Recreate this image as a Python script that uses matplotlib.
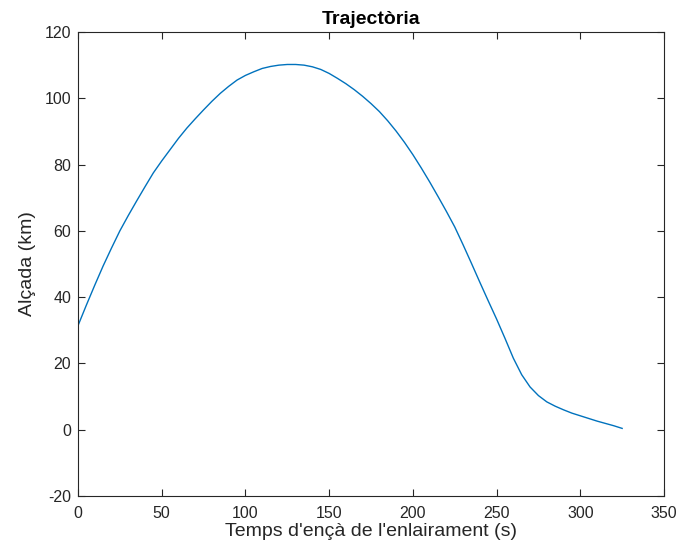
import matplotlib
matplotlib.use("Agg")
import matplotlib.pyplot as plt

# Flight trajectory: time since lift-off (s) vs altitude (km)
temps = [0, 5, 10, 15, 20, 25, 30, 35, 40, 45, 50, 55, 60, 65, 70, 75, 80,
         85, 90, 95, 100, 105, 110, 115, 120, 125, 130, 135, 140, 145, 150,
         155, 160, 165, 170, 175, 180, 185, 190, 195, 200, 205, 210, 215,
         220, 225, 230, 235, 240, 245, 250, 255, 260, 265, 270, 275, 280,
         285, 290, 295, 300, 305, 310, 315, 320, 325]
alcada = [31.4, 37.6, 43.6, 49.4, 54.8, 60.0, 64.6, 69.0, 73.3, 77.5, 81.1,
          84.5, 87.9, 91.0, 93.8, 96.5, 99.1, 101.5, 103.6, 105.5, 106.9,
          108.0, 109.0, 109.6, 110.0, 110.2, 110.2, 110.0, 109.5, 108.7,
          107.5, 106.0, 104.4, 102.6, 100.6, 98.4, 96.0, 93.2, 90.1, 86.7,
          83.0, 79.0, 74.8, 70.4, 65.9, 61.2, 55.8, 50.2, 44.5, 38.9, 33.4,
          27.6, 21.6, 16.6, 12.9, 10.3, 8.4, 7.1, 6.0, 5.0, 4.2, 3.4, 2.6,
          1.9, 1.2, 0.4]

xticks = [0, 50, 100, 150, 200, 250, 300, 350]
yticks = [-20, 0, 20, 40, 60, 80, 100, 120]

plt.rcParams['font.family'] = ['Liberation Sans', 'DejaVu Sans']
plt.rcParams['axes.unicode_minus'] = False
axcol = '#262626'

fig = plt.figure(figsize=(6.78, 5.57), dpi=100)
ax = fig.add_axes([78 / 678, 1 - 496 / 557, 586 / 678, 464 / 557])

ax.plot(temps, alcada, color='#0072BD', lw=1.0)

ax.set_xlim(0, 350)
ax.set_ylim(-20, 120)
ax.set_xticks(xticks)
ax.set_yticks(yticks)

ax.tick_params(direction='in', top=True, right=True, length=5, width=0.8,
               colors=axcol, labelsize=11.5, labelcolor=axcol)
ax.tick_params(axis='x', pad=7)
ax.tick_params(axis='y', pad=5)
for s in ax.spines.values():
    s.set_color(axcol)
    s.set_linewidth(0.8)

ax.set_title("Trajectòria", fontsize=14, fontweight='bold', color='black', pad=6)
ax.set_xlabel("Temps d'ençà de l'enlairament (s)", fontsize=14, color=axcol, labelpad=2)
ax.set_ylabel("Alçada (km)", fontsize=14, color=axcol, labelpad=6)

fig.savefig("out.png", dpi=100, facecolor='white')
